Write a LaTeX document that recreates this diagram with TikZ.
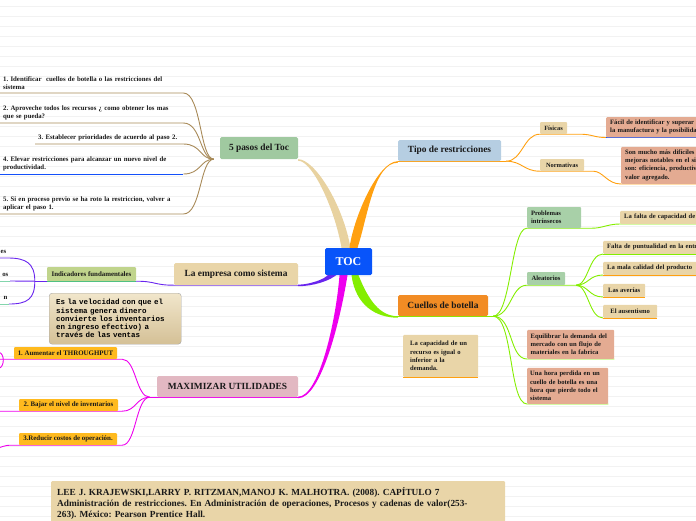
\documentclass[tikz,border=0pt]{standalone}
\usepackage{fontspec}
\setmainfont{Liberation Serif}
\setmonofont{Liberation Mono}
\pgfdeclarelayer{background}
\pgfsetlayers{background,main}

\definecolor{tocblue}{RGB}{8,84,250}
\definecolor{pasosfill}{RGB}{160,201,160}
\definecolor{tipofill}{RGB}{182,206,226}
\definecolor{cuellofill}{RGB}{242,140,36}
\definecolor{tanfill}{RGB}{233,213,168}
\definecolor{maxfill}{RGB}{226,184,194}
\definecolor{salmonfill}{RGB}{228,171,146}
\definecolor{greenfill}{RGB}{168,208,168}
\definecolor{indfill}{RGB}{192,212,140}
\definecolor{amberfill}{RGB}{255,186,30}
\definecolor{beigeline}{RGB}{232,210,160}
\definecolor{brownline}{RGB}{168,138,88}
\definecolor{orangeline}{RGB}{255,160,16}
\definecolor{limeline}{RGB}{132,238,0}
\definecolor{purpleline}{RGB}{104,36,238}
\definecolor{magentaline}{RGB}{238,0,238}
\definecolor{blueline}{RGB}{20,80,250}
\definecolor{tealline}{RGB}{64,190,128}

\tikzstyle{topic} = [rectangle, rounded corners=1.5pt, inner sep=0pt, text centered, text=black!90, font=\bfseries\fontsize{9.4}{11}\selectfont]
\tikzstyle{tag} = [rectangle, rounded corners=1pt, inner sep=0pt, text centered, text=black!90, font=\bfseries\fontsize{6.9}{8}\selectfont]
\tikzstyle{leaf} = [inner xsep=3pt, inner ysep=3pt, align=left, anchor=south west, text=black!90, font=\bfseries\fontsize{6.8}{8}\selectfont]
\tikzstyle{card} = [rectangle, rounded corners=1pt, inner xsep=4pt, inner ysep=3pt, align=left, text=black!90, font=\bfseries\fontsize{6.6}{8.1}\selectfont]
\tikzstyle{twig} = [line width=0.9pt]
\tikzstyle{gridline} = [black!5, line width=0.8pt]

\begin{document}
\frenchspacing
\begin{tikzpicture}[x=1pt, y=-1pt]
        \useasboundingbox (0,0) rectangle (696,520);

        % Central topic and main branches
        \node (toc) [topic, fill=tocblue, text=white, minimum width=47, minimum height=27, font=\bfseries\fontsize{12}{14}\selectfont] at (348.5,261.5) {TOC};
        \node (pasos) [topic, fill=pasosfill, minimum width=78, minimum height=22] at (259,148) {5 pasos del Toc};
        \node (tipo) [topic, fill=tipofill, minimum width=103, minimum height=21] at (449.5,150.5) {Tipo de restricciones};
        \node (cuellos) [topic, fill=cuellofill, minimum width=90, minimum height=21] at (443,305.5) {Cuellos de botella};
        \node (empresa) [topic, fill=tanfill, minimum width=124, minimum height=22] at (236,274) {La empresa como sistema};
        \node (maxim) [topic, fill=maxfill, minimum width=141, minimum height=21] at (227.5,386.5) {MAXIMIZAR UTILIDADES};

        % 5 pasos del Toc
        \node (paso1) [leaf, text width=177] at (0,93) {1. Identificar \ cuellos de botella o las restricciones del\\sistema};
        \node (paso2) [leaf, text width=177] at (0,123) {2. Aproveche todos los recursos ¿ como obtener los mas\\que se pueda?};
        \node (paso3) [leaf, text width=142] at (35,144) {3. Establecer prioridades de acuerdo al paso 2.};
        \node (paso4) [leaf, text width=177] at (0,174) {4. Elevar restricciones para alcanzar un nuevo nivel de\\productividad.};
        \node (paso5) [leaf, text width=177] at (0,214) {5. Si en proceso previo se ha roto la restriccion, volver a\\aplicar el paso 1.};

        % Tipo de restricciones
        \node (fisicas) [tag, fill=tanfill, minimum width=27, minimum height=12, font=\bfseries\fontsize{6.4}{8}\selectfont] at (553.5,128) {Físicas};
        \node (normat) [tag, fill=tanfill, minimum width=44, minimum height=12, font=\bfseries\fontsize{6.4}{8}\selectfont] at (562,165) {Normativas};
        \node (facil) [card, fill=salmonfill, anchor=south west, text width=120, minimum height=20] at (606,137.5) {Fácil de identificar y superar\\la manufactura y la posibilidad};
        \node (mucho) [card, fill=salmonfill, anchor=south west, text width=120, minimum height=37] at (621,184) {Son mucho más difíciles\\mejoras notables en el sistema\\son: eficiencia, productividad\\valor agregado.};

        % Cuellos de botella
        \node (intrins) [card, fill=greenfill, text width=46, minimum height=21] at (554,217.5) {Problemas\\intrínsecos};
        \node (falta) [card, fill=tanfill, anchor=south west, text width=100, minimum height=13] at (620,224) {La falta de capacidad de};
        \node (aleat) [tag, fill=greenfill, minimum width=38, minimum height=13, font=\bfseries\fontsize{6.6}{8}\selectfont] at (546,278.5) {Aleatorios};
        \node (puntual) [card, fill=tanfill, anchor=south west, text width=120, minimum height=13] at (603,254) {Falta de puntualidad en la entrega};
        \node (calidad) [card, fill=tanfill, anchor=south west, text width=120, minimum height=13] at (603,275) {La mala calidad del producto};
        \node (averias) [tag, fill=tanfill, anchor=south west, minimum width=42, minimum height=13, font=\bfseries\fontsize{6.6}{8}\selectfont] at (603,297) {Las averías};
        \node (ausent) [tag, fill=tanfill, anchor=south west, minimum width=54, minimum height=13, font=\bfseries\fontsize{6.6}{8}\selectfont] at (603,318) {El ausentismo};
        \node (equil) [card, fill=salmonfill, anchor=south west, inner xsep=3.5pt, text width=80, minimum height=29] at (527,359) {Equilibrar la demanda del\\mercado con un flujo de\\materiales en la fabrica};
        \node (hora) [card, fill=salmonfill, anchor=south west, inner xsep=3pt, text width=75, minimum height=36] at (527,404) {Una hora perdida en un\\cuello de botella es una\\hora que pierde todo el\\sistema};
        \node (capac) [card, fill=tanfill, anchor=south west, inner xsep=7pt, text width=61, minimum height=42] at (403,377) {La capacidad de un\\recurso es igual o\\inferior a la\\demanda.};

        % La empresa como sistema
        \node (indic) [tag, fill=indfill, minimum width=89, minimum height=14] at (91.5,274) {Indicadores fundamentales};
        \node (fragA) [leaf, anchor=south east, inner xsep=1.5pt, inner ysep=4.5pt] at (8,258) {es};
        \node (fragB) [leaf, anchor=south east, inner xsep=1.5pt, inner ysep=4.5pt] at (10,281) {os};
        \node (fragC) [leaf, anchor=south east, inner xsep=1.5pt, inner ysep=4pt] at (9,304) {n};
        \node (velocidad) [rectangle, draw=black!35, rounded corners=3pt, top color={rgb,255:red,241;green,230;blue,203}, bottom color={rgb,255:red,212;green,192;blue,150}, anchor=north west, text width=118, inner xsep=7pt, inner ysep=4pt, minimum height=51, align=left, font=\ttfamily\bfseries\fontsize{7.5}{8.3}\selectfont] at (49,293) {Es la velocidad con que el\\sistema genera dinero\\convierte los inventarios\\en ingreso efectivo) a\\través de las ventas};

        % MAXIMIZAR UTILIDADES
        \node (aumen) [tag, fill=amberfill, minimum width=103, minimum height=12] at (65.5,353) {1. Aumentar el THROUGHPUT};
        \node (bajar) [tag, fill=amberfill, minimum width=99, minimum height=12] at (68.5,405) {2. Bajar el nivel de inventarios};
        \node (reduc) [tag, fill=amberfill, minimum width=98, minimum height=12] at (68,439) {3.Reducir costos de operación.};

        % Reference
        \node (biblio) [card, fill=tanfill, anchor=north west, text width=442, inner xsep=6pt, inner ysep=4pt, minimum height=45, font=\bfseries\fontsize{9.3}{11.2}\selectfont] at (51,481) {LEE J. KRAJEWSKI,LARRY P. RITZMAN,MANOJ K. MALHOTRA. (2008). CAPÍTULO 7\\Administración de restricciones. En Administración de operaciones, Procesos y cadenas de valor(253-\\263). México: Pearson Prentice Hall.};

        \begin{pgfonlayer}{background}
        % ruled paper
        \foreach \y in {6,16,...,516}
            \draw[gridline] (0,\y) -- (696,\y);

        % Tapered branches out of the central topic
        \fill[beigeline] (pasos.south east) .. controls +(16,0) and +(-8,-45) .. ([xshift=2pt]toc.north) -- ([xshift=-7pt]toc.north) .. controls +(-7,-40) and +(14,0) .. ([shift={(0,1.5)}]pasos.south east) -- cycle;
        \fill[orangeline] ([xshift=1pt]toc.north) .. controls +(4,-30) and +(-20,0) .. (tipo.south west) -- ([shift={(0,1.5)}]tipo.south west) .. controls +(-24,0) and +(10,-30) .. ([xshift=9pt]toc.north) -- cycle;
        \fill[limeline] ([xshift=3pt]toc.south) .. controls +(4,30) and +(-22,0) .. ([shift={(0,1.5)}]cuellos.south west) -- (cuellos.south west) .. controls +(-18,0) and +(10,25) .. ([xshift=10pt]toc.south) -- cycle;
        \fill[purpleline] ([shift={(-10,-2)}]toc.south) .. controls +(-8,8) and +(14,0) .. ([shift={(0,1)}]empresa.south east) -- ([shift={(0,-0.5)}]empresa.south east) .. controls +(12,0) and +(4,6) .. ([shift={(-20,-4)}]toc.south) -- cycle;
        \fill[magentaline] ([xshift=-1pt]toc.south) .. controls +(-8,50) and +(22,0) .. ([shift={(0,1)}]maxim.south east) -- ([shift={(0,-0.5)}]maxim.south east) .. controls +(20,0) and +(-4,50) .. ([xshift=-9pt]toc.south) -- cycle;

        % 5 pasos del Toc
        \foreach \p in {paso1, paso2, paso3, paso5}
            \draw[twig, brownline] (\p.south west) -- (\p.south east) .. controls +(18,0) and +(-14,0) .. ([xshift=-6pt]pasos.south west);
        \draw[twig, blueline] (paso4.south west) -- (paso4.south east);
        \draw[twig, brownline] (paso4.south east) .. controls +(18,0) and +(-14,0) .. ([xshift=-6pt]pasos.south west);

        % Tipo de restricciones
        \draw[twig, orangeline] (tipo.south west) -- ([xshift=5pt]tipo.south east) coordinate (tipofan);
        \draw[twig, orangeline] (tipofan) .. controls +(16,0) and +(-16,0) .. (fisicas.south west) -- ([xshift=13pt]fisicas.south east) .. controls +(12,0) and +(-12,0) .. (facil.south west);
        \draw[twig, blueline] (facil.south west) -- (facil.south east);
        \draw[twig, orangeline] (tipofan) .. controls +(16,0) and +(-16,0) .. (normat.south west) -- ([xshift=9pt]normat.south east) .. controls +(10,0) and +(-14,0) .. (mucho.south west) -- (mucho.south east);

        % Cuellos de botella
        \draw[twig, limeline] (cuellos.south west) -- ([xshift=5pt]cuellos.south east) coordinate (cuefan);
        \draw[twig, limeline] (cuefan) .. controls +(18,0) and +(-16,0) .. (intrins.south west) -- ([xshift=11pt]intrins.south east) .. controls +(10,0) and +(-12,0) .. (falta.south west) -- (falta.south east);
        \draw[twig, limeline] (cuefan) .. controls +(18,0) and +(-16,0) .. (aleat.south west) -- ([xshift=11pt]aleat.south east) coordinate (alefan);
        \foreach \c in {puntual, calidad, averias, ausent}
            \draw[twig, limeline] (alefan) .. controls +(12,0) and +(-14,0) .. (\c.south west);
        \draw[twig, limeline] (puntual.south west) -- (puntual.south east);
        \foreach \c in {calidad, averias, ausent}
            \draw[twig, orangeline] (\c.south west) -- (\c.south east);
        \draw[twig, limeline] (cuefan) .. controls +(20,0) and +(-18,0) .. (equil.south west) -- (equil.south east);
        \draw[twig, limeline] (cuefan) .. controls +(20,0) and +(-18,0) .. (hora.south west) -- (hora.south east);
        \draw[twig, orangeline] (capac.south west) -- (capac.south east);

        % La empresa como sistema
        \draw[twig, purpleline] (empresa.south east) -- (empresa.south west) .. controls +(-20,0) and +(20,0) .. (indic.south east);
        \draw[twig, tealline] (indic.south east) -- (indic.south west);
        \draw[twig, purpleline] (indic.south west) -- ++(-12,0) coordinate (indfan);
        \draw[twig, purpleline] (indfan) .. controls +(0,-18) and +(18,0) .. (fragA.south east) -- (fragA.south west) -- ++(-4,0);
        \draw[twig, purpleline] (indfan) -- (fragB.south east);
        \draw[twig, purpleline] (indfan) .. controls +(0,18) and +(18,0) .. (fragC.south east);
        \draw[twig, tealline] (fragB.south east) -- (fragB.south west) -- ++(-4,0);
        \draw[twig, tealline] (fragC.south east) -- (fragC.south west) -- ++(-4,0);

        % MAXIMIZAR UTILIDADES
        \draw[twig, magentaline] (maxim.south east) -- ([xshift=-7pt]maxim.south west) coordinate (maxfan);
        \draw[twig, magentaline] (maxfan) .. controls +(-14,0) and +(14,0) .. ([xshift=5pt]aumen.south east) -- (aumen.south west) -- ++(-16,0);
        \draw[twig, magentaline] (maxfan) .. controls +(-14,0) and +(14,0) .. ([xshift=4pt]bajar.south east) -- (bajar.south west) -- ++(-21,0);
        \draw[twig, magentaline] (maxfan) .. controls +(-14,0) and +(14,0) .. ([xshift=5pt]reduc.south east) -- ([xshift=-9pt]reduc.south west) .. controls +(-4,0) and +(4,-2) .. ++(-14,4);
        \draw[twig, magentaline] ([shift={(-15,-7)}]aumen.south west) .. controls +(6,1) and +(6,-1) .. ([shift={(-15,9)}]aumen.south west);
        \end{pgfonlayer}
    \end{tikzpicture}
\end{document}
